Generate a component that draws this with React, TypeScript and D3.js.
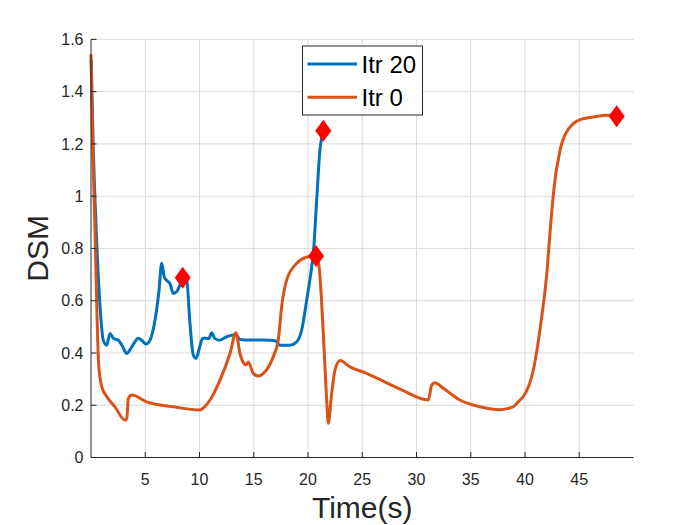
import { useEffect, useRef } from "react";
import * as d3 from "d3";

// Itr 20 (blue) — time (s) and DSM values
const itr20T = [0.02, 0.2, 0.5, 0.8, 1.13, 1.45, 1.75, 2.06, 2.52, 2.92, 3.29, 3.66, 4.0, 4.36, 4.67, 5.07, 5.44, 5.9, 6.27, 6.51, 6.76, 6.97, 7.28, 7.59, 7.9, 8.2, 8.45, 8.82, 9.12, 9.43, 9.68, 9.98, 10.29, 10.6, 10.85, 11.12, 11.4, 11.86, 12.5, 13.1, 13.4, 13.73, 14.65, 15.88, 16.96, 17.42, 18.34, 18.96, 19.42, 19.88, 20.34, 20.49, 20.8, 21.1, 21.41];
const itr20V = [1.52, 1.2, 0.85, 0.6, 0.449, 0.43, 0.475, 0.456, 0.449, 0.424, 0.398, 0.417, 0.44, 0.456, 0.449, 0.434, 0.449, 0.526, 0.64, 0.743, 0.69, 0.678, 0.665, 0.628, 0.635, 0.66, 0.688, 0.679, 0.513, 0.392, 0.379, 0.417, 0.456, 0.456, 0.455, 0.477, 0.456, 0.449, 0.462, 0.469, 0.468, 0.452, 0.45, 0.45, 0.447, 0.43, 0.43, 0.443, 0.488, 0.602, 0.73, 0.781, 0.985, 1.176, 1.25];

// Itr 0 (orange)
const itr0T = [0, 0.15, 0.37, 0.55, 0.7, 0.99, 1.45, 2.21, 3.13, 3.3, 3.44, 3.75, 5.13, 7.59, 10.05, 10.5, 10.97, 11.89, 12.81, 13.36, 13.73, 14.1, 14.3, 14.5, 14.96, 15.42, 16.04, 16.8, 17.26, 17.57, 18.03, 18.96, 20.03, 20.74, 21.02, 21.41, 21.72, 21.87, 22.18, 22.49, 22.95, 23.87, 25.4, 28.48, 31.09, 31.4, 31.7, 32.47, 34.0, 35.85, 37.7, 38.46, 38.92, 39.54, 39.84, 40.77, 41.54, 42.0, 42.3, 42.6, 42.89, 43.07, 43.3, 43.69, 44.45, 45.07, 46.3, 47.68, 48.45];
const itr0V = [1.543, 1.2, 0.87, 0.55, 0.36, 0.271, 0.233, 0.194, 0.143, 0.15, 0.226, 0.239, 0.213, 0.194, 0.182, 0.195, 0.22, 0.296, 0.398, 0.477, 0.398, 0.36, 0.355, 0.365, 0.322, 0.312, 0.328, 0.386, 0.449, 0.577, 0.679, 0.743, 0.768, 0.771, 0.73, 0.475, 0.22, 0.131, 0.245, 0.335, 0.371, 0.347, 0.322, 0.262, 0.22, 0.277, 0.286, 0.265, 0.22, 0.194, 0.183, 0.188, 0.194, 0.22, 0.233, 0.335, 0.538, 0.7, 0.857, 1.0, 1.099, 1.14, 1.189, 1.235, 1.278, 1.293, 1.303, 1.31, 1.306];

// red diamond markers
const markerT = [8.45, 21.41, 20.74, 48.45];
const markerV = [0.688, 1.25, 0.771, 1.306];

const xTicks = [5, 10, 15, 20, 25, 30, 35, 40, 45];
const yTicks = [0, 0.2, 0.4, 0.6, 0.8, 1, 1.2, 1.4, 1.6];
const legendLabels = ["Itr 20", "Itr 0"];

const W = 700;
const H = 525;
const M = { left: 91, right: 700 - 633.5, top: 39.4, bottom: 525 - 457.5 };
const BLUE = "#0072BD";
const ORANGE = "#D95319";
const INK = "#262626";
const FONT = "'Liberation Sans', Arial, Helvetica, sans-serif";

export default function App() {
  const svgRef = useRef<SVGSVGElement>(null);

  useEffect(() => {
    const svgEl = svgRef.current;
    if (!svgEl) return;
    const svg = d3.select(svgEl);
    svg.selectAll("*").remove();

    const x = d3.scaleLinear().domain([0, 50]).range([M.left, W - M.right]);
    const y = d3.scaleLinear().domain([0, 1.6]).range([H - M.bottom, M.top]);

    svg.append("rect").attr("width", W).attr("height", H).attr("fill", "#fff");

    // --- grid -------------------------------------------------------------
    const grid = svg.append("g").attr("stroke", "#d9d9d9").attr("stroke-width", 1);
    grid
      .selectAll("line.gx")
      .data(xTicks)
      .enter()
      .append("line")
      .attr("x1", (d) => x(d))
      .attr("x2", (d) => x(d))
      .attr("y1", y(0))
      .attr("y2", y(1.6));
    grid
      .selectAll("line.gy")
      .data(yTicks)
      .enter()
      .append("line")
      .attr("x1", x(0))
      .attr("x2", x(50))
      .attr("y1", (d) => y(d))
      .attr("y2", (d) => y(d));

    // --- series -----------------------------------------------------------
    const line = d3
      .line<[number, number]>()
      .x((d) => x(d[0]))
      .y((d) => y(d[1]))
      .curve(d3.curveMonotoneX);

    const series = [
      { t: itr20T, v: itr20V, color: BLUE },
      { t: itr0T, v: itr0V, color: ORANGE },
    ];
    series.forEach((s) => {
      const pts = s.t.map((t, i) => [t, s.v[i]] as [number, number]);
      svg
        .append("path")
        .datum(pts)
        .attr("fill", "none")
        .attr("stroke", s.color)
        .attr("stroke-width", 3)
        .attr("stroke-linejoin", "round")
        .attr("d", line);
    });

    // --- diamonds ---------------------------------------------------------
    const dw = 8;
    const dh = 11;
    svg
      .append("g")
      .selectAll("path")
      .data(markerT.map((t, i) => [t, markerV[i]]))
      .enter()
      .append("path")
      .attr("d", (d) => {
        const cx = x(d[0]);
        const cy = y(d[1]);
        return `M${cx},${cy - dh}L${cx + dw},${cy}L${cx},${cy + dh}L${cx - dw},${cy}Z`;
      })
      .attr("fill", "#ff0000");

    // --- axes -------------------------------------------------------------
    const ax = svg.append("g").attr("stroke", INK).attr("stroke-width", 1).attr("fill", "none");
    ax.append("line").attr("x1", x(0)).attr("x2", x(50)).attr("y1", y(0)).attr("y2", y(0));
    ax.append("line").attr("x1", x(0)).attr("x2", x(0)).attr("y1", y(0)).attr("y2", y(1.6));
    ax.selectAll("line.tx")
      .data(xTicks)
      .enter()
      .append("line")
      .attr("x1", (d) => x(d))
      .attr("x2", (d) => x(d))
      .attr("y1", y(0))
      .attr("y2", y(0) - 5.5);
    ax.selectAll("line.ty")
      .data(yTicks)
      .enter()
      .append("line")
      .attr("x1", x(0))
      .attr("x2", x(0) + 5.5)
      .attr("y1", (d) => y(d))
      .attr("y2", (d) => y(d));

    const labels = svg.append("g").attr("fill", INK).attr("font-family", FONT).attr("font-size", 16);
    labels
      .selectAll("text.lx")
      .data(xTicks)
      .enter()
      .append("text")
      .attr("x", (d) => x(d))
      .attr("y", y(0) + 27)
      .attr("text-anchor", "middle")
      .text((d) => String(d));
    labels
      .selectAll("text.ly")
      .data(yTicks)
      .enter()
      .append("text")
      .attr("x", x(0) - 7.5)
      .attr("y", (d) => y(d))
      .attr("dy", "0.36em")
      .attr("text-anchor", "end")
      .text((d) => String(d));

    svg
      .append("text")
      .attr("x", (x(0) + x(50)) / 2)
      .attr("y", 518)
      .attr("text-anchor", "middle")
      .attr("font-family", FONT)
      .attr("font-size", 30)
      .attr("fill", INK)
      .text("Time(s)");
    svg
      .append("text")
      .attr("transform", `translate(48,${(y(0) + y(1.6)) / 2}) rotate(-90)`)
      .attr("text-anchor", "middle")
      .attr("font-family", FONT)
      .attr("font-size", 30)
      .attr("fill", INK)
      .text("DSM");

    // --- legend -----------------------------------------------------------
    const lg = svg.append("g");
    lg.append("rect")
      .attr("x", 302.5)
      .attr("y", 46)
      .attr("width", 120)
      .attr("height", 69)
      .attr("fill", "#fff")
      .attr("stroke", INK)
      .attr("stroke-width", 1);
    [BLUE, ORANGE].forEach((c, i) => {
      const ly = 64 + i * 33.3;
      lg.append("line")
        .attr("x1", 307.5)
        .attr("x2", 357)
        .attr("y1", ly)
        .attr("y2", ly)
        .attr("stroke", c)
        .attr("stroke-width", 3);
      lg.append("text")
        .attr("x", 361.5)
        .attr("y", ly)
        .attr("dy", "0.36em")
        .attr("font-family", FONT)
        .attr("font-size", 24)
        .attr("fill", "#000")
        .text(legendLabels[i]);
    });
  }, []);

  return (
    <div style={{ position: "absolute", left: 0, top: 0 }}>
      <svg ref={svgRef} width={W} height={H} style={{ display: "block" }} />
    </div>
  );
}
